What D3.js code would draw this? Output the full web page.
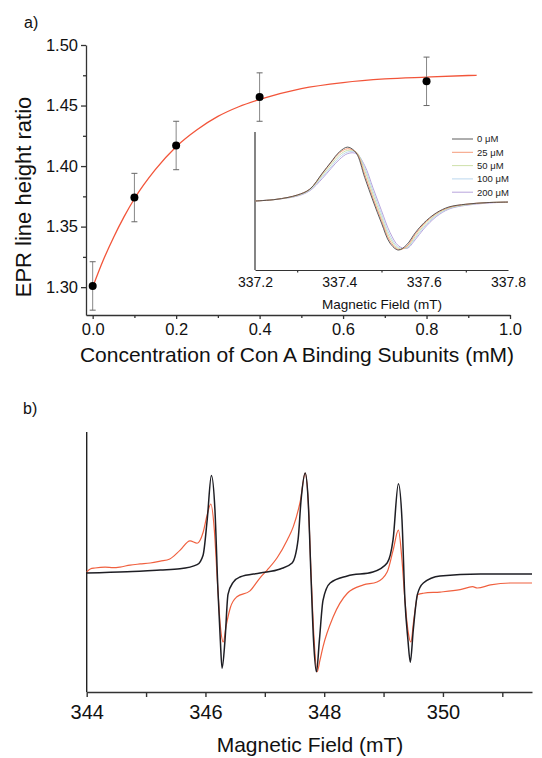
<!DOCTYPE html>
<html>
<head>
<meta charset="utf-8">
<script src="https://cdn.jsdelivr.net/npm/d3@7"></script>
<style>
  body { margin: 0; background: #fff; }
  svg { display: block; font-family: "Liberation Sans", Arial, sans-serif; }
</style>
</head>
<body>
<svg width="542" height="758"></svg>
<script>
// panel a: line height ratio vs Con A concentration
const concentration = [0.0, 0.1, 0.2, 0.4, 0.8];
const heightRatio = [1.301, 1.374, 1.417, 1.457, 1.470];
const ratioError = [0.020, 0.020, 0.020, 0.020, 0.020];

// fitted curve
const fitX = [0, 0.025, 0.05, 0.075, 0.1, 0.15, 0.2, 0.25, 0.3, 0.35, 0.4, 0.5, 0.6, 0.7, 0.8, 0.9, 0.92];
const fitY = [1.300, 1.322, 1.341, 1.358, 1.373, 1.397, 1.416, 1.430, 1.441, 1.449, 1.455, 1.464, 1.469, 1.472, 1.4735, 1.4748, 1.475];

const ratioTicks = [1.30, 1.35, 1.40, 1.45, 1.50];
const ratioMinor = [1.325, 1.375, 1.425, 1.475];
const concTicks = [0.0, 0.2, 0.4, 0.6, 0.8, 1.0];
const concMinor = [0.1, 0.3, 0.5, 0.7, 0.9];

// inset: EPR spectra at several Con A concentrations
const insetLabels = ["0 \u03bcM", "25 \u03bcM", "50 \u03bcM", "100 \u03bcM", "200 \u03bcM"];
const insetColors = ["#4a4a4a", "#f4906c", "#c8dca0", "#b4d4ec", "#b09ad8"];
const insetField = [337.2, 337.25, 337.3, 337.33, 337.36, 337.38, 337.40, 337.42, 337.44, 337.46, 337.48,
  337.50, 337.52, 337.54, 337.56, 337.58, 337.60, 337.63, 337.66, 337.70, 337.75, 337.8];
const inset0 = [0, 0.03, 0.11, 0.22, 0.52, 0.72, 0.91, 1.0, 0.89, 0.44, 0.0, -0.41, -0.78, -0.91, -0.81, -0.59, -0.41, -0.22, -0.11, -0.06, -0.03, -0.02];
const inset25 = [0, 0.03, 0.11, 0.22, 0.51, 0.71, 0.89, 0.97, 0.90, 0.50, 0.05, -0.36, -0.74, -0.90, -0.84, -0.62, -0.43, -0.23, -0.12, -0.06, -0.03, -0.02];
const inset50 = [0, 0.03, 0.10, 0.21, 0.48, 0.67, 0.85, 0.94, 0.91, 0.57, 0.12, -0.30, -0.69, -0.88, -0.86, -0.66, -0.46, -0.25, -0.13, -0.07, -0.03, -0.02];
const inset100 = [0, 0.03, 0.10, 0.20, 0.45, 0.63, 0.81, 0.91, 0.90, 0.62, 0.18, -0.24, -0.64, -0.86, -0.87, -0.69, -0.49, -0.27, -0.14, -0.07, -0.03, -0.02];
const inset200 = [0, 0.03, 0.09, 0.19, 0.42, 0.60, 0.77, 0.88, 0.88, 0.66, 0.24, -0.18, -0.58, -0.83, -0.88, -0.72, -0.52, -0.29, -0.15, -0.08, -0.04, -0.02];
const insetTicks = [337.2, 337.4, 337.6, 337.8];
const insetMinor = [337.3, 337.5, 337.7];

// panel b: full spectra, black and red traces
const blackField = [344.0, 344.68, 345.24, 345.57, 345.86, 345.96, 346.03, 346.10, 346.16, 346.21, 346.25, 346.28,
  346.33, 346.38, 346.47, 346.58, 346.92, 347.26, 347.46, 347.56, 347.61, 347.68, 347.73, 347.78, 347.82, 347.87,
  347.92, 347.98, 348.10, 348.39, 348.82, 349.06, 349.16, 349.25, 349.31, 349.36, 349.41, 349.45, 349.50, 349.57,
  349.67, 349.95, 350.63, 351.5];
const blackSignal = [0, 0.01, 0.025, 0.035, 0.07, 0.15, 0.45, 0.82, 0.53, -0.14, -0.56, -0.80,
  -0.56, -0.18, -0.076, -0.034, 0, 0.034, 0.084, 0.28, 0.61, 0.84, 0.61, -0.06, -0.56, -0.83,
  -0.56, -0.23, -0.084, -0.025, 0.008, 0.084, 0.28, 0.75, 0.45, -0.23, -0.56, -0.75, -0.48, -0.18,
  -0.084, -0.025, -0.008, -0.008];
const redField = [344.0, 344.06, 344.14, 344.31, 344.45, 344.56, 344.73, 344.90, 345.07, 345.24, 345.40, 345.57,
  345.74, 345.86, 345.96, 346.03, 346.09, 346.15, 346.20, 346.25, 346.30, 346.35, 346.42, 346.53, 346.75,
  346.92, 347.04, 347.21, 347.38, 347.48, 347.60, 347.68, 347.73, 347.78, 347.83, 347.88, 347.93, 347.98,
  348.15, 348.39, 348.66, 348.89, 349.06, 349.16, 349.25, 349.31, 349.36, 349.41, 349.46, 349.51, 349.58,
  349.67, 349.95, 350.29, 350.50, 350.58, 350.80, 351.13, 351.5];
const redSignal = [0.01, 0.034, 0.042, 0.05, 0.045, 0.05, 0.067, 0.076, 0.084, 0.10, 0.118, 0.19,
  0.27, 0.25, 0.34, 0.49, 0.58, 0.36, -0.06, -0.44, -0.58, -0.44, -0.29, -0.20, -0.15,
  -0.04, 0.025, 0.13, 0.28, 0.39, 0.61, 0.84, 0.61, -0.017, -0.56, -0.83, -0.73, -0.62,
  -0.37, -0.17, -0.10, -0.076, 0.008, 0.19, 0.36, 0.11, -0.23, -0.48, -0.58, -0.39, -0.18,
  -0.17, -0.16, -0.14, -0.115, -0.126, -0.10, -0.084, -0.084];
const fieldTicks = [344, 346, 348, 350];
const fieldMinor = [345, 347, 349, 351];

const svg = d3.select("svg");
const font = "Liberation Sans, Arial, sans-serif";

// ---------- panel a ----------
const xA = d3.scaleLinear().domain([-0.016, 1.0]).range([86, 510]);
const yA = d3.scaleLinear().domain([1.277, 1.50]).range([315, 45]);

const gA = svg.append("g");

gA.append("g")
  .attr("transform", "translate(86,0)")
  .call(d3.axisLeft(yA).tickValues(ratioTicks).tickFormat(d3.format(".2f")).tickSize(5).tickSizeOuter(0).tickPadding(3));
gA.append("g")
  .attr("transform", "translate(86,0)")
  .call(d3.axisLeft(yA).tickValues(ratioMinor).tickFormat("").tickSize(3).tickSizeOuter(0))
  .select(".domain").remove();

gA.append("g")
  .attr("transform", "translate(0,315)")
  .call(d3.axisBottom(xA).tickValues(concTicks).tickFormat(d3.format(".1f")).tickSize(4).tickSizeOuter(0).tickPadding(4));
gA.append("g")
  .attr("transform", "translate(0,315)")
  .call(d3.axisBottom(xA).tickValues(concMinor).tickFormat("").tickSize(3).tickSizeOuter(0))
  .select(".domain").remove();

gA.selectAll(".tick text").attr("font-size", 16.5).attr("font-family", font).attr("fill", "#111");
gA.selectAll(".domain, .tick line").attr("stroke", "#333").attr("stroke-width", 1.3);

gA.append("text")
  .attr("transform", "translate(31,197) rotate(-90)")
  .attr("text-anchor", "middle")
  .attr("font-size", 22)
  .attr("fill", "#111")
  .text("EPR line height ratio");

gA.append("text")
  .attr("x", 297).attr("y", 362)
  .attr("text-anchor", "middle")
  .attr("font-size", 21)
  .attr("fill", "#111")
  .text("Concentration of Con A Binding Subunits (mM)");

svg.append("text").attr("x", 24).attr("y", 28).attr("font-size", 16).attr("fill", "#111").text("a)");
svg.append("text").attr("x", 23).attr("y", 414).attr("font-size", 16).attr("fill", "#111").text("b)");

// fit line
const fitLine = d3.line()
  .x((d, i) => xA(fitX[i]))
  .y(d => yA(d))
  .curve(d3.curveMonotoneX);
gA.append("path")
  .attr("d", fitLine(fitY))
  .attr("fill", "none")
  .attr("stroke", "#f2553a")
  .attr("stroke-width", 1.3);

// error bars + points
const pts = gA.append("g")
  .selectAll("g")
  .data(concentration)
  .enter()
  .append("g");
pts.append("line")
  .attr("x1", d => xA(d)).attr("x2", d => xA(d))
  .attr("y1", (d, i) => yA(heightRatio[i] - ratioError[i]))
  .attr("y2", (d, i) => yA(heightRatio[i] + ratioError[i]))
  .attr("stroke", "#888").attr("stroke-width", 1);
pts.selectAll(".cap")
  .data((d, i) => [[d, heightRatio[i] - ratioError[i]], [d, heightRatio[i] + ratioError[i]]])
  .enter()
  .append("line")
  .attr("x1", d => xA(d[0]) - 3).attr("x2", d => xA(d[0]) + 3)
  .attr("y1", d => yA(d[1])).attr("y2", d => yA(d[1]))
  .attr("stroke", "#666").attr("stroke-width", 1);
pts.append("circle")
  .attr("cx", d => xA(d))
  .attr("cy", (d, i) => yA(heightRatio[i]))
  .attr("r", 4)
  .attr("fill", "#000");

// ---------- inset ----------
const xI = d3.scaleLinear().domain([337.2, 337.8]).range([255, 508]);
const yI = d3.scaleLinear().domain([-1.28, 1.28]).range([270, 132]);
const gI = svg.append("g");

gI.append("line")
  .attr("x1", 255).attr("x2", 255).attr("y1", 132).attr("y2", 270)
  .attr("stroke", "#333").attr("stroke-width", 1.2);
gI.append("g")
  .attr("transform", "translate(0,270)")
  .call(d3.axisBottom(xI).tickValues(insetTicks).tickFormat(d3.format(".1f")).tickSize(0).tickSizeOuter(0).tickPadding(7));
gI.append("g")
  .attr("transform", "translate(0,270)")
  .call(d3.axisBottom(xI).tickValues(insetMinor).tickFormat("").tickSize(2.5).tickSizeOuter(0))
  .select(".domain").remove();
gI.selectAll(".tick text").attr("font-size", 14).attr("font-family", font).attr("fill", "#111");
gI.selectAll(".domain, .tick line").attr("stroke", "#333").attr("stroke-width", 1.2);

gI.append("text")
  .attr("x", 382).attr("y", 309)
  .attr("text-anchor", "middle")
  .attr("font-size", 13.5)
  .attr("fill", "#111")
  .text("Magnetic Field (mT)");

const insetSeries = [inset0, inset25, inset50, inset100, inset200];
const insetLine = d3.line()
  .x((d, i) => xI(insetField[i]))
  .y(d => yI(d))
  .curve(d3.curveCatmullRom);
// draw lightest first so black ends on top
gI.append("g")
  .selectAll("path")
  .data(insetSeries.map((s, k) => ({ s, k })).reverse())
  .enter()
  .append("path")
  .attr("d", d => insetLine(d.s))
  .attr("fill", "none")
  .attr("stroke", d => insetColors[d.k])
  .attr("stroke-width", 0.9);

const legend = gI.append("g")
  .selectAll("g")
  .data(insetLabels)
  .enter()
  .append("g")
  .attr("transform", (d, i) => `translate(452,${139 + i * 13.3})`);
legend.append("line")
  .attr("x1", 0).attr("x2", 21)
  .attr("stroke", (d, i) => insetColors[i])
  .attr("stroke-width", 0.9);
legend.append("text")
  .attr("x", 25).attr("dy", "0.35em")
  .attr("font-size", 9.5)
  .attr("fill", "#222")
  .text(d => d);

// ---------- panel b ----------
const xB = d3.scaleLinear().domain([344, 351.5]).range([86.7, 532]);
const yB = d3.scaleLinear().domain([-1, 1.185]).range([692, 432]);
const gB = svg.append("g");

gB.append("line")
  .attr("x1", 86.7).attr("x2", 86.7).attr("y1", 432).attr("y2", 692)
  .attr("stroke", "#222").attr("stroke-width", 1.4);
gB.append("g")
  .attr("transform", "translate(0,692)")
  .call(d3.axisBottom(xB).tickValues(fieldTicks).tickFormat(d3.format("d")).tickSize(5).tickSizeOuter(0).tickPadding(8));
gB.append("g")
  .attr("transform", "translate(0,692)")
  .call(d3.axisBottom(xB).tickValues(fieldMinor).tickFormat("").tickSize(5).tickSizeOuter(0))
  .select(".domain").remove();
gB.selectAll(".tick text").attr("font-size", 20).attr("font-family", font).attr("fill", "#111");
gB.selectAll(".domain, .tick line").attr("stroke", "#333").attr("stroke-width", 1.4);

gB.append("text")
  .attr("x", 310).attr("y", 752)
  .attr("text-anchor", "middle")
  .attr("font-size", 21)
  .attr("fill", "#111")
  .text("Magnetic Field (mT)");

const redLine = d3.line()
  .x((d, i) => xB(redField[i]))
  .y(d => yB(d))
  .curve(d3.curveMonotoneX);
const blackLine = d3.line()
  .x((d, i) => xB(blackField[i]))
  .y(d => yB(d))
  .curve(d3.curveMonotoneX);

gB.append("path")
  .attr("d", redLine(redSignal))
  .attr("fill", "none")
  .attr("stroke", "#f0603f")
  .attr("stroke-width", 1.2);
gB.append("path")
  .attr("d", blackLine(blackSignal))
  .attr("fill", "none")
  .attr("stroke", "#1e1e24")
  .attr("stroke-width", 1.5);
</script>
</body>
</html>
